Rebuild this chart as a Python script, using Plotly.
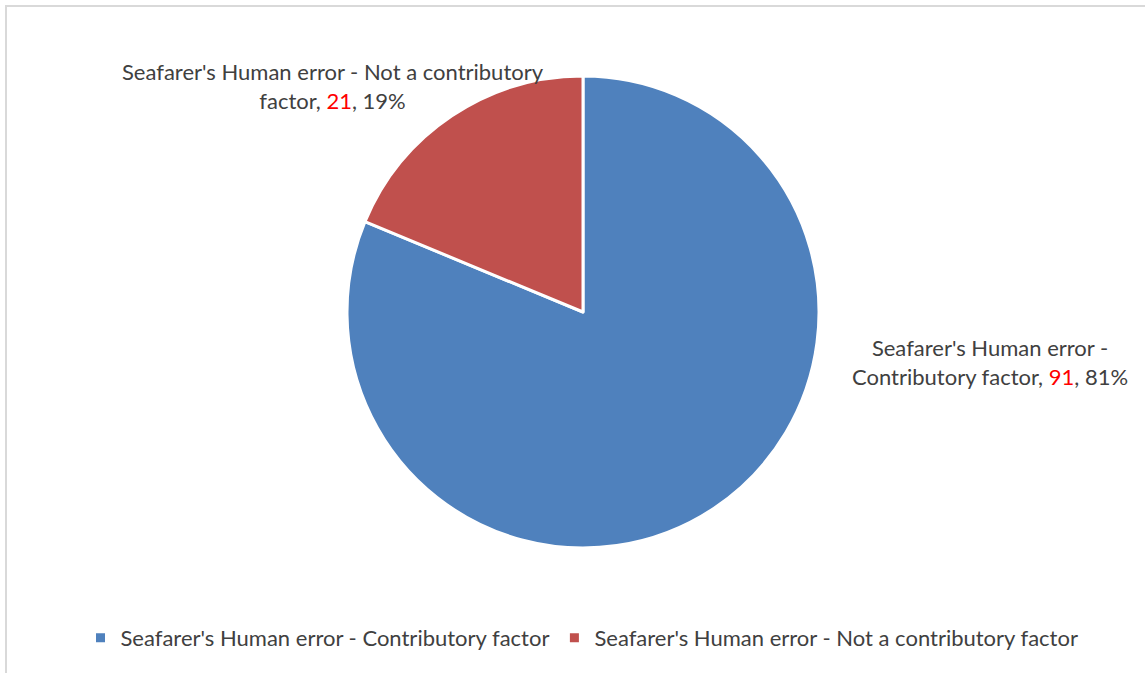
import plotly.graph_objects as go

# Incident causes: seafarer's human error as a contributory factor
categories = ["Seafarer's Human error - Contributory factor",
              "Seafarer's Human error - Not a contributory factor"]
counts = [91, 21]
colors = ["#4F81BD", "#C0504D"]

W, H = 1145, 673
FONT = "Lato"
TEXT_COLOR = "#404040"

total = sum(counts)
pcts = [round(100 * c / total) for c in counts]

fig = go.Figure(go.Pie(
    labels=categories,
    values=counts,
    sort=False,
    direction="clockwise",
    rotation=0,
    marker=dict(colors=colors, line=dict(color="white", width=3)),
    textinfo="none",
    hoverinfo="label+value+percent",
    domain=dict(x=[347 / W, 819 / W], y=[1 - 548 / H, 1 - 76 / H]),
    showlegend=True,
))

# Data labels: category name, count (in red) and share
label_lines = [
    ("Seafarer's Human error -<br>Contributory factor, ", 990, 362),
    ("Seafarer's Human error - Not a contributory<br>factor, ", 333, 86),
]
for i, (prefix, px, py) in enumerate(label_lines):
    fig.add_annotation(
        x=px / W, y=1 - py / H, xref="paper", yref="paper",
        text=f"{prefix}<span style='color:#FF0000'>{counts[i]}</span>, {pcts[i]}%",
        showarrow=False, align="center",
        font=dict(family=FONT, size=22, color=TEXT_COLOR),
        xanchor="center", yanchor="middle",
    )

# Chart-area frame
fig.add_shape(type="rect", xref="paper", yref="paper",
              x0=6 / W, x1=1.05, y0=-0.05, y1=1 - 6 / H,
              line=dict(color="#D9D9D9", width=2), fillcolor="rgba(0,0,0,0)")

fig.update_layout(
    width=W, height=H,
    margin=dict(l=0, r=0, t=0, b=0),
    paper_bgcolor="white",
    plot_bgcolor="white",
    font=dict(family=FONT, color=TEXT_COLOR),
    legend=dict(
        orientation="h", x=582 / W, xanchor="center", y=1 - 638 / H, yanchor="middle",
        font=dict(family=FONT, size=22, color=TEXT_COLOR),
        itemwidth=30, tracegroupgap=0,
    ),
)

fig.write_html("out.html")
